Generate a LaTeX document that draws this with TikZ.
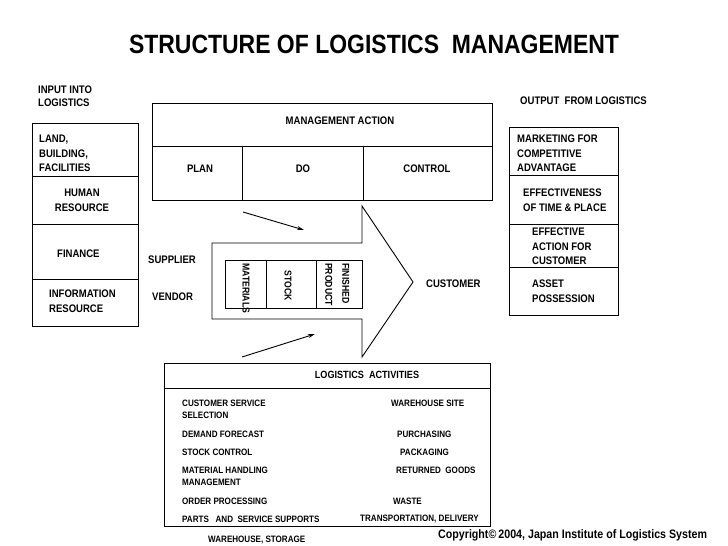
\documentclass[tikz,border=0pt]{standalone}
\usepackage{fontspec}
\setmainfont{Liberation Sans}[FakeStretch=0.87]
\usetikzlibrary{arrows.meta}
\begin{document}
\begin{tikzpicture}[x=1bp,y=-1bp,
  box/.style={draw=black,line width=0.9bp},
  lbl/.style={inner sep=0pt,font=\fontsize{11}{14.5}\selectfont\bfseries},
  act/.style={inner sep=0pt,font=\fontsize{9.3}{12}\selectfont\bfseries,anchor=west},
  vert/.style={inner sep=0pt,font=\fontsize{10}{17}\selectfont\bfseries,rotate=-90,anchor=west},
  pointer/.style={line width=0.9bp,-{Stealth[length=7bp,width=4bp]}}]
\useasboundingbox (0,0) rectangle (728,546);
\clip (0,0) rectangle (728,546);
\fill[white] (0,0) rectangle (728,546);

% title
\node[inner sep=0pt,anchor=base,font=\fontsize{26.5}{30}\selectfont\bfseries] (title) at (374,54) {STRUCTURE OF LOGISTICS\ \ MANAGEMENT};

% input column
\node[lbl,anchor=north west,align=left,font=\fontsize{11}{13}\selectfont\bfseries] (inlbl) at (38,86) {INPUT INTO\\LOGISTICS};
\draw[box] (32,123) rectangle (138,326);
\draw[box] (32,176) -- (138,176);
\draw[box] (32,224) -- (138,224);
\draw[box] (32,279) -- (138,279);
\node[lbl,anchor=north west,align=left] (land) at (39,135) {LAND,\\BUILDING,\\FACILITIES};
\node[lbl,anchor=north,align=center] (human) at (82,189) {HUMAN\\RESOURCE};
\node[lbl,anchor=west] (finance) at (57,254) {FINANCE};
\node[lbl,anchor=north west,align=left] (info) at (49,290) {INFORMATION\\RESOURCE};

% management action
\draw[box] (152,103) rectangle (492,200);
\draw[box] (152,146) -- (492,146);
\draw[box] (242,146) -- (242,200);
\draw[box] (363,146) -- (363,200);
\node[lbl] (mgmt) at (340,121) {MANAGEMENT ACTION};
\node[lbl] (plan) at (200,169) {PLAN};
\node[lbl] (do) at (303,169) {DO};
\node[lbl] (control) at (427,169) {CONTROL};

% output column
\node[lbl,anchor=west] (outlbl) at (520,101) {OUTPUT\ \ FROM LOGISTICS};
\draw[box] (509,127) rectangle (618,315);
\draw[box] (509,175) -- (618,175);
\draw[box] (509,224) -- (618,224);
\draw[box] (509,267) -- (618,267);
\node[lbl,anchor=north west,align=left] (market) at (517,135) {MARKETING FOR\\COMPETITIVE\\ADVANTAGE};
\node[lbl,anchor=north west,align=left] (effect) at (523,189) {EFFECTIVENESS\\OF TIME \& PLACE};
\node[lbl,anchor=north west,align=left] (action) at (532,228) {EFFECTIVE\\ACTION FOR\\CUSTOMER};
\node[lbl,anchor=north west,align=left] (asset) at (532,280) {ASSET\\POSSESSION};

% big arrow
\draw[box,line join=miter] (212,243) -- (362,243) -- (362,206) -- (413,282) -- (362,357) -- (362,319) -- (212,319) -- cycle;
\draw[box] (225,260) rectangle (362,308);
\draw[box] (266,260) -- (266,308);
\draw[box] (316,260) -- (316,308);
\node[vert] (materials) at (246,263) {MATERIALS};
\node[vert,anchor=center] (stock) at (288,286) {STOCK};
\node[vert,align=left,anchor=north west] (finished) at (349.5,263) {FINISHED\\PRODUCT};

\node[lbl,anchor=west] (supplier) at (148,260) {SUPPLIER};
\node[lbl,anchor=west] (vendor) at (152,297) {VENDOR};
\node[lbl,anchor=west] (customer) at (426,284) {CUSTOMER};

% pointers
\coordinate (p1s) at (243,212); \coordinate (p1e) at (304,230);
\coordinate (p2s) at (242,357); \coordinate (p2e) at (315,334);
\draw[pointer] (p1s) -- (p1e);
\draw[pointer] (p2s) -- (p2e);

% logistics activities
\draw[box] (164,363) rectangle (490,526);
\draw[box] (164,388) -- (490,388);
\node[lbl,font=\fontsize{10.5}{12}\selectfont\bfseries] (acttitle) at (367,375) {LOGISTICS\ \ ACTIVITIES};
\node[act,anchor=north west,align=left] (custserv) at (182,399.7) {CUSTOMER SERVICE\\SELECTION};
\node[act] (demand) at (182,434) {DEMAND FORECAST};
\node[act] (stockc) at (182,452) {STOCK CONTROL};
\node[act,anchor=north west,align=left] (handling) at (182,466.7) {MATERIAL HANDLING\\MANAGEMENT};
\node[act] (order) at (182,501) {ORDER PROCESSING};
\node[act] (parts) at (182,519) {PARTS\ \ \ AND\ \ SERVICE SUPPORTS};
\node[act] (site) at (391,403) {WAREHOUSE SITE};
\node[act] (purch) at (397,434) {PURCHASING};
\node[act] (pack) at (400,452) {PACKAGING};
\node[act] (returned) at (396,470) {RETURNED\ \ GOODS};
\node[act] (waste) at (393,501) {WASTE};
\node[act] (transport) at (360,519) {TRANSPORTATION, DELIVERY};
\node[act] (storage) at (208,540) {WAREHOUSE, STORAGE};

% copyright
\node[inner sep=0pt,anchor=west,font=\fontsize{12.3}{14}\selectfont\bfseries] (copy) at (438,535) {Copyright\textcopyright\,2004, Japan Institute of Logistics System};
\end{tikzpicture}
\end{document}
